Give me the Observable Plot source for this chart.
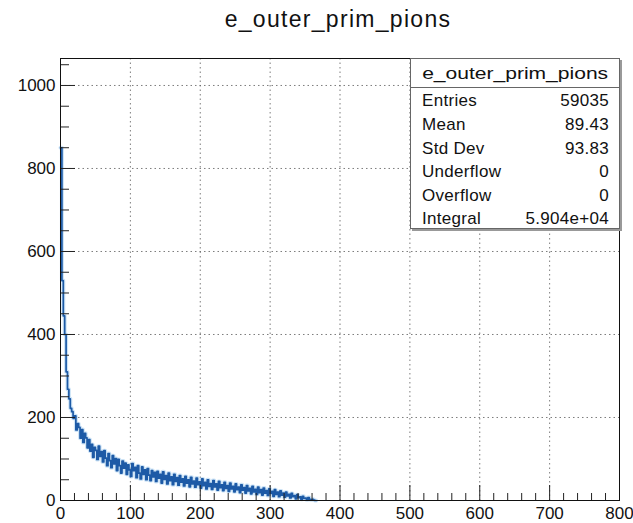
<!DOCTYPE html>
<html>
<head>
<meta charset="utf-8">
<script src="https://cdn.jsdelivr.net/npm/d3@7"></script>
<script src="https://cdn.jsdelivr.net/npm/@observablehq/plot@0.6"></script>
<style>
  html, body { margin: 0; padding: 0; background: #fff; }
  body { font-family: "Liberation Sans", Arial, Helvetica, sans-serif; color: #111; }
  #wrap { position: relative; width: 633px; height: 523px; overflow: hidden; }
  #title { position: absolute; top: 6px; left: 338px; font-size: 23px; white-space: nowrap;
           transform: translateX(-50%); letter-spacing: 1.3px; color: #111; }
  #stats { position: absolute; left: 410px; top: 58px; width: 208px; height: 169px;
           border: 1px solid #666; background: #fff; box-shadow: 2px 2px 0 #999; }
  #stats .hdr { position: absolute; left: 0; top: 0; width: 208px; height: 28px;
                border-bottom: 1px solid #666; text-align: center; line-height: 30px;
                font-size: 17px; white-space: nowrap; }
  #stats .hdr span { display: inline-block; transform-origin: center; }
  #stats .row { position: absolute; left: 11px; width: 187px; height: 22px; line-height: 22px;
                font-size: 17px; letter-spacing: 0.3px; white-space: nowrap; }
  #stats .row .v { position: absolute; right: 0; top: 0; }
</style>
</head>
<body>
<div id="wrap"></div>
<script>
// ---- data ----
const histTitle = "e_outer_prim_pions";
const binWidth = 2;           // bin width in x units, bins start at 0
const counts = [
  850, 530, 445, 400, 310, 268, 245, 222, 214, 198,
  204, 170, 185, 176, 150, 171, 140, 162, 151, 127,
  147, 119, 135, 104, 128, 121, 99, 131, 106, 118,
  93, 120, 102, 84, 113, 96, 79, 108, 88, 101,
  72, 99, 84, 66, 95, 78, 90, 63, 86, 74,
  58, 89, 72, 80, 55, 84, 66, 52, 81, 63,
  74, 50, 77, 61, 48, 72, 57, 68, 46, 70,
  54, 63, 42, 69, 51, 60, 40, 66, 48, 57,
  38, 63, 46, 55, 37, 60, 44, 52, 35, 58,
  42, 50, 33, 56, 40, 47, 32, 54, 38, 45,
  30, 52, 36, 44, 28, 50, 34, 41, 27, 48,
  33, 40, 25, 46, 31, 38, 24, 44, 29, 36,
  22, 42, 28, 34, 21, 40, 26, 32, 19, 38,
  25, 31, 18, 36, 23, 29, 16, 34, 21, 27,
  15, 32, 19, 26, 13, 30, 18, 24, 12, 28,
  17, 22, 10, 26, 15, 20, 9, 23, 13, 18,
  8, 20, 11, 15, 6, 17, 9, 12, 4, 14,
  7, 9, 3, 10, 5, 6, 2, 7, 3, 2,
  3, 1, 0
];
const xDomain = [0, 800];
const yDomain = [0, 1065];
const xTicks = [0, 100, 200, 300, 400, 500, 600, 700, 800];
const yTicks = [0, 200, 400, 600, 800, 1000];
const xGrid = [100, 200, 300, 400, 500, 600, 700];
const yGrid = [200, 400, 600, 800, 1000];
const xMinorStep = 20;
const yMinorStep = 50;
const statLabels = ["Entries", "Mean", "Std Dev", "Underflow", "Overflow", "Integral"];
const statValues = ["59035", "89.43", "93.83", "0", "0", "5.904e+04"];

// ---- build ----
const data = counts.map((c, i) => ({x: i * binWidth, y: c}));
data.push({x: counts.length * binWidth, y: 0});
const xMinor = d3.range(xDomain[0], xDomain[1] + 1, xMinorStep).filter(v => v % 100 !== 0);
const yMinor = d3.range(yDomain[0], yDomain[1] + 1, yMinorStep).filter(v => v % 200 !== 0);

const blue = "#1d5aa6";
const plot = Plot.plot({
  width: 633, height: 523,
  marginLeft: 60, marginRight: 14, marginTop: 58, marginBottom: 23,
  style: {fontFamily: '"Liberation Sans", Arial, Helvetica, sans-serif', fontSize: "17px", color: "#111", background: "#fff"},
  x: {domain: xDomain},
  y: {domain: yDomain},
  marks: [
    Plot.gridX(xGrid, {stroke: "#666", strokeOpacity: 0.85, strokeDasharray: "1.5,3"}),
    Plot.gridY(yGrid, {stroke: "#666", strokeOpacity: 0.85, strokeDasharray: "1.5,3"}),
    Plot.line(data, {x: "x", y: "y", curve: "step-after", stroke: "#8ec0ea", strokeWidth: 4, strokeOpacity: 0.45}),
    Plot.line(data, {x: "x", y: "y", curve: "step-after", stroke: blue, strokeWidth: 1.7}),
    Plot.axisX(xMinor, {tickSize: -7, text: null, label: null, stroke: "#222"}),
    Plot.axisX(xTicks, {tickSize: -15, text: null, label: null, stroke: "#222"}),
    Plot.axisX(xTicks, {tickSize: 0, tickPadding: 6, label: null, tickFormat: "d", style: {letterSpacing: "0.5px"}}),
    Plot.axisY(yMinor, {tickSize: -9, text: null, label: null, stroke: "#222"}),
    Plot.axisY(yTicks, {tickSize: -15, text: null, label: null, stroke: "#222"}),
    Plot.axisY(yTicks, {tickSize: 0, tickPadding: 5, label: null, tickFormat: "d"}),
    Plot.frame({stroke: "#111"})
  ]
});

const wrap = document.getElementById("wrap");
wrap.appendChild(plot);

const t = document.createElement("div");
t.id = "title";
t.textContent = histTitle;
wrap.appendChild(t);

const box = document.createElement("div");
box.id = "stats";
const hdr = document.createElement("div");
hdr.className = "hdr";
const hs = document.createElement("span");
hs.textContent = histTitle;
hdr.appendChild(hs);
box.appendChild(hdr);
const rowTops = [31, 55, 79, 102, 126, 149];
statLabels.forEach((lab, i) => {
  const r = document.createElement("div");
  r.className = "row";
  r.style.top = rowTops[i] + "px";
  r.textContent = lab;
  const v = document.createElement("span");
  v.className = "v";
  v.textContent = statValues[i];
  r.appendChild(v);
  box.appendChild(r);
});
wrap.appendChild(box);
// stretch the header text to the width it has in the reference
const w = hs.getBoundingClientRect().width;
hs.style.transform = `scaleX(${186 / w})`;
</script>
</body>
</html>
